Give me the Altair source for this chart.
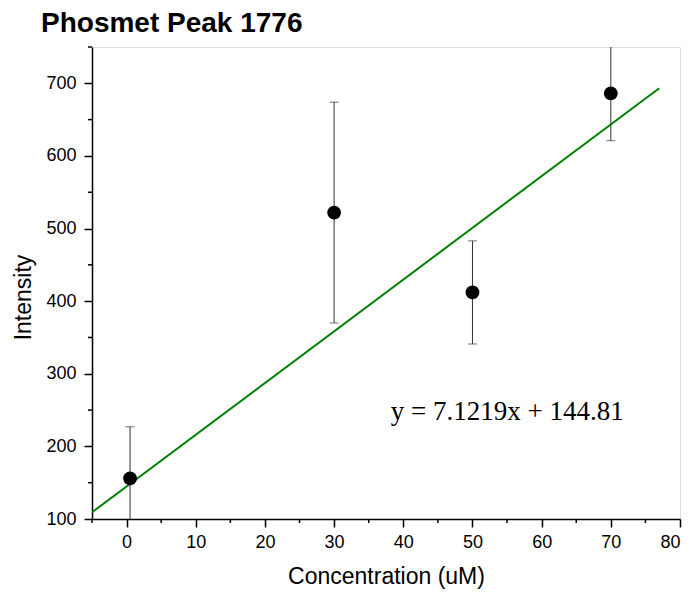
import altair as alt
import pandas as pd

# data
conc = [0.5, 30, 50, 70]
intensity = [156, 522, 412, 686]
err = [71, 152, 71, 65]

# fitted line shown in the reference
slope = 7.1219
intercept = 144.81
fit_x = [-5, 77]
eq_label = ["y = 7.1219x + 144.81"]
eq_x = [38.2]
eq_y = [247]

x_major = list(range(0, 81, 10))
x_minor = list(range(-5, 80, 10))
y_major = list(range(100, 701, 100))
y_minor = list(range(150, 751, 100))

pts = pd.DataFrame({"x": conc, "y": intensity, "e": err})
pts["lo"] = pts["y"] - pts["e"]
pts["hi"] = pts["y"] + pts["e"]
fit = pd.DataFrame({"x": fit_x})
eq = pd.DataFrame({"x": eq_x, "y": eq_y, "t": eq_label})
xm = pd.DataFrame({"x": x_minor})
ym = pd.DataFrame({"y": y_minor})

FONT = "Liberation Sans"
W, H = 588, 472

xscale = alt.Scale(domain=[-5, 80], nice=False, zero=False)
yscale = alt.Scale(domain=[100, 750], nice=False, zero=False)

common = dict(
    grid=False,
    domainColor="black", tickColor="black", domainWidth=1.5, tickWidth=1.5,
    tickSize=8, labelOverlap=False,
    labelFont=FONT, labelFontSize=18, labelColor="black",
    titleFont=FONT, titleFontSize=23, titleFontWeight="normal", titleColor="black",
)
xaxis = alt.Axis(values=x_major, title="Concentration (uM)", labelPadding=6,
                 titlePadding=14, **common)
yaxis = alt.Axis(values=y_major, title="Intensity", labelPadding=8,
                 titlePadding=10, titleY=250, **common)

base = alt.Chart(pts)

bars = base.mark_rule(color="#333333", strokeWidth=1, clip=True).encode(
    x=alt.X("x:Q", scale=xscale, axis=xaxis),
    y=alt.Y("lo:Q", scale=yscale, axis=yaxis),
    y2="hi:Q",
)
cap_lo = base.mark_tick(color="#333333", thickness=1, size=9, orient="horizontal", clip=True).encode(
    x="x:Q", y="lo:Q"
)
cap_hi = base.mark_tick(color="#333333", thickness=1, size=9, orient="horizontal", clip=True).encode(
    x="x:Q", y="hi:Q"
)
line = alt.Chart(fit).transform_calculate(
    y=f"{slope} * datum.x + {intercept}"
).mark_line(color="#008000", strokeWidth=2, clip=True).encode(
    x="x:Q", y="y:Q"
)
dots = base.mark_point(filled=True, color="black", size=190, opacity=1).encode(
    x="x:Q", y="y:Q"
)
text = alt.Chart(eq).mark_text(
    font="Liberation Serif", fontSize=27, align="left", baseline="middle", color="black"
).encode(x="x:Q", y="y:Q", text="t:N")

# minor axis ticks
xminor = alt.Chart(xm).mark_rule(color="black", strokeWidth=1.5).encode(
    x="x:Q", y=alt.value(H), y2=alt.value(H + 4)
)
yminor = alt.Chart(ym).mark_rule(color="black", strokeWidth=1.5).encode(
    y="y:Q", x=alt.value(0), x2=alt.value(-4)
)

chart = alt.layer(line, bars, cap_lo, cap_hi, dots, text, xminor, yminor).properties(
    width=W,
    height=H,
    title=alt.TitleParams(
        "Phosmet Peak 1776", anchor="start", frame="group", dx=-51, offset=8,
        font=FONT, fontSize=28, fontWeight="bold", color="black",
    ),
    autosize=alt.AutoSizeParams(type="none"),
    padding={"left": 92, "top": 47, "right": 13, "bottom": 74},
).configure_view(stroke=None).configure(background="white")

chart.save("out.html", embed_options={"renderer": "svg", "actions": False})
